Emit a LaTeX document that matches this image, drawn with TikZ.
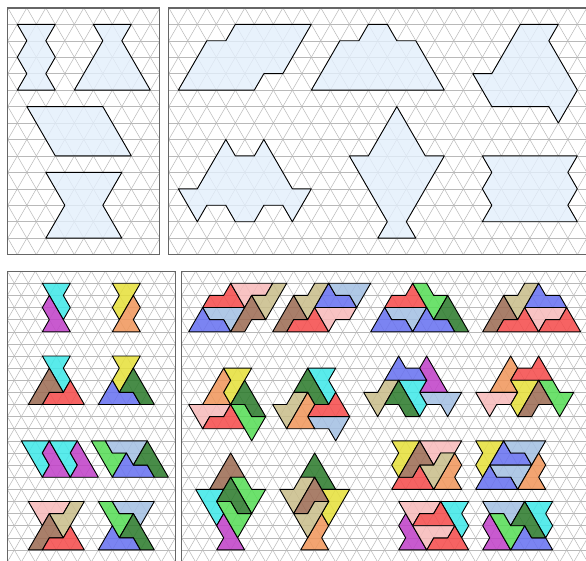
\documentclass[tikz,border=0pt]{standalone}
\usepackage{tikz}

\definecolor{shapefill}{HTML}{E3EFFC}
\definecolor{pcyan}{HTML}{3EE8E8}
\definecolor{pmagenta}{HTML}{C040C8}
\definecolor{pyellow}{HTML}{E6E03A}
\definecolor{porange}{HTML}{F0965A}
\definecolor{pbrown}{HTML}{9C6A52}
\definecolor{pred}{HTML}{F54A4A}
\definecolor{pblue}{HTML}{6670F0}
\definecolor{pdkgreen}{HTML}{2A7A2A}
\definecolor{pgreen}{HTML}{55DD55}
\definecolor{psteel}{HTML}{A3BFE3}
\definecolor{ppink}{HTML}{F7BABA}
\definecolor{pkhaki}{HTML}{C9BD8A}

\tikzset{
  gridline/.style={gray!55, line width=0.5pt},
  frameline/.style={draw=black!60, line width=1.3pt},
  region/.style={draw=black, line width=0.9pt, fill=shapefill, fill opacity=0.8, line join=round},
  piece/.style={draw=black, line width=0.9pt, fill=#1, fill opacity=0.86, line join=round}
}

% triangular grid: imin imax jmin jmax (i-j list) (i+j list)
\newcommand{\trigrid}[6]{%
  \begin{scope}
    \clip (#1,#3) rectangle (#2,#4);
    \foreach \j in {#3,...,#4} \draw[gridline] (#1,\j) -- (#2,\j);
    \foreach \c in {#5} \draw[gridline] ({\c+(#3)},#3) -- ({\c+(#4)},#4);
    \foreach \c in {#6} \draw[gridline] ({\c-(#3)},#3) -- ({\c-(#4)},#4);
  \end{scope}}

\begin{document}
\begin{tikzpicture}
\useasboundingbox (0,0) rectangle (586pt,-561pt);
\clip (0,0) rectangle (586pt,-561pt);
\fill[white] (0,0) rectangle (586pt,-561pt);

% top left panel
\begin{scope}[shift={(17.33pt,-24.33pt)}, x=9.5pt, y=-16.45pt]
  \trigrid{-1}{15}{-1}{14}{-14,-12,...,16}{-2,0,...,28}
  \draw[region] (0,0) -- (4,0) -- (3,1) -- (4,2) -- (3,3) -- (4,4) -- (0,4) -- (1,3) -- (0,2) -- (1,1) -- cycle;
  \draw[region] (8,0) -- (12,0) -- (11,1) -- (14,4) -- (6,4) -- (9,1) -- cycle;
  \draw[region] (1,5) -- (9,5) -- (12,8) -- (4,8) -- cycle;
  \draw[region] (3,9) -- (11,9) -- (9,11) -- (11,13) -- (3,13) -- (5,11) -- cycle;
  \draw[frameline] (-1,-1) rectangle (15,14);
\end{scope}

% top right panel
\begin{scope}[shift={(178.33pt,-24.33pt)}, x=9.5pt, y=-16.45pt]
  \trigrid{-1}{46}{-1}{14}{-14,-12,...,46}{-2,0,...,58}
  \draw[region] (0,4) -- (3,1) -- (5,1) -- (6,0) -- (14,0) -- (11,3) -- (9,3) -- (8,4) -- cycle;
  \draw[region] (14,4) -- (17,1) -- (19,1) -- (20,0) -- (22,0) -- (23,1) -- (25,1) -- (28,4) -- cycle;
  \draw[region] (36,0) -- (40,0) -- (39,1) -- (42,4) -- (40,6) -- (39,5) -- (33,5) -- (31,3) -- (33,3) -- cycle;
  \draw[region] (0,10) -- (2,10) -- (5,7) -- (6,8) -- (8,8) -- (9,7) -- (12,10) -- (14,10) -- (12,12) -- (11,11)
    -- (9,11) -- (8,12) -- (6,12) -- (5,11) -- (3,11) -- (2,12) -- cycle;
  \draw[region] (23,5) -- (26,8) -- (28,8) -- (24,12) -- (25,13) -- (21,13) -- (22,12) -- (18,8) -- (20,8) -- cycle;
  \draw[region] (32,8) -- (42,8) -- (41,9) -- (42,10) -- (41,11) -- (42,12) -- (32,12) -- (33,11) -- (32,10) -- (33,9) -- cycle;
  \draw[frameline] (-1,-1) rectangle (46,14);
\end{scope}

% bottom left panel
\begin{scope}[shift={(42.33pt,-283.3pt)}, x=7pt, y=-12.12pt]
  \trigrid{-5}{19}{-1}{25}{-28,-26,...,20}{-6,-4,...,44}
  % zigzag column
  \begin{scope}[shift={(0,0)}]
    \draw[piece=pcyan] (0,0) -- (4,0) -- (3,1) -- (4,2) -- (3,3) -- cycle;
    \draw[piece=pmagenta] (1,1) -- (4,4) -- (0,4) -- (1,3) -- (0,2) -- cycle;
  \end{scope}
  \begin{scope}[shift={(10,0)}]
    \draw[piece=pyellow] (0,0) -- (4,0) -- (1,3) -- (0,2) -- (1,1) -- cycle;
    \draw[piece=porange] (3,1) -- (0,4) -- (4,4) -- (3,3) -- (4,2) -- cycle;
  \end{scope}
  % notched trapezoid
  \begin{scope}[shift={(-2,6)}]
    \draw[piece=pcyan] (2,0) -- (6,0) -- (5,1) -- (6,2) -- (5,3) -- cycle;
    \draw[piece=pred] (2,4) -- (3,3) -- (5,3) -- (6,2) -- (8,4) -- cycle;
    \draw[piece=pbrown] (0,4) -- (3,1) -- (5,3) -- (3,3) -- (2,4) -- cycle;
  \end{scope}
  \begin{scope}[shift={(8,6)}]
    \draw[piece=pyellow] (2,0) -- (6,0) -- (3,3) -- (2,2) -- (3,1) -- cycle;
    \draw[piece=pblue] (0,4) -- (6,4) -- (5,3) -- (3,3) -- (2,2) -- cycle;
    \draw[piece=pdkgreen] (5,1) -- (8,4) -- (6,4) -- (5,3) -- (3,3) -- cycle;
  \end{scope}
  % parallelogram
  \begin{scope}[shift={(-3,13)}]
    \draw[piece=pcyan] (0,0) -- (4,0) -- (3,1) -- (4,2) -- (3,3) -- cycle;
    \draw[piece=pmagenta] (4,0) -- (7,3) -- (3,3) -- (4,2) -- (3,1) -- cycle;
    \draw[piece=pcyan] (4,0) -- (8,0) -- (7,1) -- (8,2) -- (7,3) -- cycle;
    \draw[piece=pmagenta] (8,0) -- (11,3) -- (7,3) -- (8,2) -- (7,1) -- cycle;
  \end{scope}
  \begin{scope}[shift={(7,13)}]
    \draw[piece=pgreen] (0,0) -- (2,0) -- (3,1) -- (5,1) -- (3,3) -- cycle;
    \draw[piece=psteel] (2,0) -- (8,0) -- (6,2) -- (5,1) -- (3,1) -- cycle;
    \draw[piece=pblue] (3,3) -- (9,3) -- (8,2) -- (6,2) -- (5,1) -- cycle;
    \draw[piece=pdkgreen] (8,0) -- (11,3) -- (9,3) -- (8,2) -- (6,2) -- cycle;
  \end{scope}
  % hourglass
  \begin{scope}[shift={(-2,18)}]
    \draw[piece=ppink] (0,0) -- (6,0) -- (5,1) -- (3,1) -- (2,2) -- cycle;
    \draw[piece=pbrown] (0,4) -- (2,4) -- (3,3) -- (5,3) -- (3,1) -- cycle;
    \draw[piece=pkhaki] (3,1) -- (5,1) -- (6,0) -- (8,0) -- (5,3) -- cycle;
    \draw[piece=pred] (2,4) -- (8,4) -- (6,2) -- (5,3) -- (3,3) -- cycle;
  \end{scope}
  \begin{scope}[shift={(8,18)}]
    \draw[piece=pgreen] (0,0) -- (2,0) -- (3,1) -- (5,1) -- (3,3) -- cycle;
    \draw[piece=psteel] (2,0) -- (8,0) -- (6,2) -- (5,1) -- (3,1) -- cycle;
    \draw[piece=pdkgreen] (5,1) -- (8,4) -- (6,4) -- (5,3) -- (3,3) -- cycle;
    \draw[piece=pblue] (0,4) -- (6,4) -- (5,3) -- (3,3) -- (2,2) -- cycle;
  \end{scope}
  \draw[frameline] (-5,-1) rectangle (19,25);
\end{scope}

% bottom right panel
\begin{scope}[shift={(188.67pt,-283.3pt)}, x=7pt, y=-12.12pt]
  \trigrid{-1}{59}{-1}{25}{-24,-22,...,60}{-2,0,...,84}
  % slanted block
  \begin{scope}[shift={(0,0)}]
    \draw[piece=pred] (2,2) -- (3,1) -- (5,1) -- (6,0) -- (8,2) -- cycle;
    \draw[piece=psteel] (2,2) -- (8,2) -- (6,4) -- (5,3) -- (3,3) -- cycle;
    \draw[piece=pblue] (0,4) -- (6,4) -- (5,3) -- (3,3) -- (2,2) -- cycle;
    \draw[piece=ppink] (6,0) -- (12,0) -- (11,1) -- (9,1) -- (8,2) -- cycle;
    \draw[piece=pbrown] (6,4) -- (8,4) -- (9,3) -- (11,3) -- (9,1) -- cycle;
    \draw[piece=pkhaki] (9,1) -- (11,1) -- (12,0) -- (14,0) -- (11,3) -- cycle;
  \end{scope}
  \begin{scope}[shift={(12,0)}]
    \draw[piece=pbrown] (0,4) -- (2,4) -- (3,3) -- (5,3) -- (3,1) -- cycle;
    \draw[piece=pkhaki] (3,1) -- (5,1) -- (6,0) -- (8,0) -- (5,3) -- cycle;
    \draw[piece=pred] (2,4) -- (8,4) -- (6,2) -- (5,3) -- (3,3) -- cycle;
    \draw[piece=ppink] (6,2) -- (12,2) -- (11,3) -- (9,3) -- (8,4) -- cycle;
    \draw[piece=pblue] (6,2) -- (8,0) -- (9,1) -- (11,1) -- (12,2) -- cycle;
    \draw[piece=psteel] (8,0) -- (14,0) -- (12,2) -- (11,1) -- (9,1) -- cycle;
  \end{scope}
  % house
  \begin{scope}[shift={(26,0)}]
    \draw[piece=pred] (2,2) -- (3,1) -- (5,1) -- (6,0) -- (8,2) -- cycle;
    \draw[piece=pgreen] (6,0) -- (8,0) -- (9,1) -- (11,1) -- (9,3) -- cycle;
    \draw[piece=pdkgreen] (11,1) -- (14,4) -- (12,4) -- (11,3) -- (9,3) -- cycle;
    \draw[piece=psteel] (2,2) -- (8,2) -- (6,4) -- (5,3) -- (3,3) -- cycle;
    \draw[piece=pblue] (0,4) -- (6,4) -- (5,3) -- (3,3) -- (2,2) -- cycle;
    \draw[piece=pblue] (6,4) -- (12,4) -- (11,3) -- (9,3) -- (8,2) -- cycle;
  \end{scope}
  \begin{scope}[shift={(42,0)}]
    \draw[piece=pbrown] (0,4) -- (2,4) -- (3,3) -- (5,3) -- (3,1) -- cycle;
    \draw[piece=pkhaki] (3,1) -- (5,1) -- (6,0) -- (8,0) -- (5,3) -- cycle;
    \draw[piece=pblue] (6,2) -- (8,0) -- (9,1) -- (11,1) -- (12,2) -- cycle;
    \draw[piece=pred] (2,4) -- (8,4) -- (6,2) -- (5,3) -- (3,3) -- cycle;
    \draw[piece=ppink] (6,2) -- (12,2) -- (11,3) -- (9,3) -- (8,4) -- cycle;
    \draw[piece=pred] (8,4) -- (14,4) -- (12,2) -- (11,3) -- (9,3) -- cycle;
  \end{scope}
  % three-armed shape
  \begin{scope}[shift={(0,7)}]
    \draw[piece=porange] (5,0) -- (6,1) -- (5,2) -- (6,3) -- (2,3) -- cycle;
    \draw[piece=pyellow] (5,0) -- (9,0) -- (6,3) -- (5,2) -- (6,1) -- cycle;
    \draw[piece=ppink] (0,3) -- (6,3) -- (5,4) -- (3,4) -- (2,5) -- cycle;
    \draw[piece=pred] (2,5) -- (8,5) -- (6,3) -- (5,4) -- (3,4) -- cycle;
    \draw[piece=pdkgreen] (8,1) -- (11,4) -- (9,4) -- (8,3) -- (6,3) -- cycle;
    \draw[piece=pgreen] (6,3) -- (8,3) -- (9,4) -- (11,4) -- (9,6) -- cycle;
  \end{scope}
  \begin{scope}[shift={(12,7)}]
    \draw[piece=pcyan] (5,0) -- (9,0) -- (8,1) -- (9,2) -- (8,3) -- cycle;
    \draw[piece=pdkgreen] (5,0) -- (8,3) -- (6,3) -- (5,2) -- (3,2) -- cycle;
    \draw[piece=pred] (5,4) -- (11,4) -- (9,2) -- (8,3) -- (6,3) -- cycle;
    \draw[piece=psteel] (5,4) -- (11,4) -- (9,6) -- (8,5) -- (6,5) -- cycle;
    \draw[piece=pkhaki] (0,3) -- (2,3) -- (3,2) -- (5,2) -- (2,5) -- cycle;
    \draw[piece=porange] (5,2) -- (2,5) -- (6,5) -- (5,4) -- (6,3) -- cycle;
  \end{scope}
  % twin peaks
  \begin{scope}[shift={(25,6)}]
    \draw[piece=pblue] (3,2) -- (9,2) -- (8,1) -- (6,1) -- (5,0) -- cycle;
    \draw[piece=pmagenta] (9,0) -- (12,3) -- (8,3) -- (9,2) -- (8,1) -- cycle;
    \draw[piece=pkhaki] (0,3) -- (2,3) -- (3,2) -- (5,2) -- (2,5) -- cycle;
    \draw[piece=psteel] (8,3) -- (14,3) -- (12,5) -- (11,4) -- (9,4) -- cycle;
    \draw[piece=pcyan] (5,2) -- (9,2) -- (8,3) -- (9,4) -- (8,5) -- cycle;
    \draw[piece=pdkgreen] (5,2) -- (8,5) -- (6,5) -- (5,4) -- (3,4) -- cycle;
  \end{scope}
  \begin{scope}[shift={(41,6)}]
    \draw[piece=porange] (5,0) -- (2,3) -- (6,3) -- (5,2) -- (6,1) -- cycle;
    \draw[piece=pred] (5,2) -- (6,1) -- (8,1) -- (9,0) -- (11,2) -- cycle;
    \draw[piece=ppink] (0,3) -- (6,3) -- (5,4) -- (3,4) -- (2,5) -- cycle;
    \draw[piece=pgreen] (9,2) -- (11,2) -- (12,3) -- (14,3) -- (12,5) -- cycle;
    \draw[piece=pyellow] (5,2) -- (9,2) -- (6,5) -- (5,4) -- (6,3) -- cycle;
    \draw[piece=pbrown] (6,5) -- (8,5) -- (9,4) -- (11,4) -- (9,2) -- cycle;
  \end{scope}
  % vase
  \begin{scope}[shift={(1,14)}]
    \draw[piece=pbrown] (2,3) -- (4,3) -- (5,2) -- (7,2) -- (5,0) -- cycle;
    \draw[piece=pcyan] (0,3) -- (4,3) -- (3,4) -- (4,5) -- (3,6) -- cycle;
    \draw[piece=pmagenta] (4,5) -- (7,8) -- (3,8) -- (4,7) -- (3,6) -- cycle;
    \draw[piece=pgreen] (5,2) -- (7,2) -- (8,3) -- (10,3) -- (8,5) -- cycle;
    \draw[piece=pdkgreen] (5,2) -- (8,5) -- (6,5) -- (5,4) -- (3,4) -- cycle;
    \draw[piece=pgreen] (3,4) -- (5,4) -- (6,5) -- (8,5) -- (6,7) -- cycle;
  \end{scope}
  \begin{scope}[shift={(13,14)}]
    \draw[piece=pdkgreen] (5,0) -- (8,3) -- (6,3) -- (5,2) -- (3,2) -- cycle;
    \draw[piece=porange] (6,5) -- (3,8) -- (7,8) -- (6,7) -- (7,6) -- cycle;
    \draw[piece=pyellow] (6,3) -- (10,3) -- (7,6) -- (6,5) -- (7,4) -- cycle;
    \draw[piece=pkhaki] (0,3) -- (2,3) -- (3,2) -- (5,2) -- (2,5) -- cycle;
    \draw[piece=pbrown] (2,5) -- (4,5) -- (5,4) -- (7,4) -- (5,2) -- cycle;
    \draw[piece=pkhaki] (2,5) -- (4,5) -- (5,4) -- (7,4) -- (4,7) -- cycle;
  \end{scope}
  % zigzag band
  \begin{scope}[shift={(29,13)}]
    \draw[piece=pyellow] (0,0) -- (4,0) -- (1,3) -- (0,2) -- (1,1) -- cycle;
    \draw[piece=ppink] (4,0) -- (10,0) -- (9,1) -- (7,1) -- (6,2) -- cycle;
    \draw[piece=porange] (9,1) -- (6,4) -- (10,4) -- (9,3) -- (10,2) -- cycle;
    \draw[piece=pred] (0,4) -- (1,3) -- (3,3) -- (4,2) -- (6,4) -- cycle;
    \draw[piece=pbrown] (1,3) -- (3,3) -- (4,2) -- (6,2) -- (4,0) -- cycle;
    \draw[piece=pkhaki] (4,2) -- (6,2) -- (7,1) -- (9,1) -- (6,4) -- cycle;
  \end{scope}
  \begin{scope}[shift={(41,13)}]
    \draw[piece=pyellow] (0,0) -- (4,0) -- (1,3) -- (0,2) -- (1,1) -- cycle;
    \draw[piece=pblue] (2,2) -- (8,2) -- (7,1) -- (5,1) -- (4,0) -- cycle;
    \draw[piece=psteel] (4,0) -- (10,0) -- (8,2) -- (7,1) -- (5,1) -- cycle;
    \draw[piece=psteel] (2,2) -- (8,2) -- (6,4) -- (5,3) -- (3,3) -- cycle;
    \draw[piece=pblue] (0,4) -- (6,4) -- (5,3) -- (3,3) -- (2,2) -- cycle;
    \draw[piece=porange] (9,1) -- (6,4) -- (10,4) -- (9,3) -- (10,2) -- cycle;
  \end{scope}
  \begin{scope}[shift={(30,18)}]
    \draw[piece=pcyan] (6,0) -- (10,0) -- (9,1) -- (10,2) -- (9,3) -- cycle;
    \draw[piece=pmagenta] (1,1) -- (4,4) -- (0,4) -- (1,3) -- (0,2) -- cycle;
    \draw[piece=ppink] (0,0) -- (6,0) -- (5,1) -- (3,1) -- (2,2) -- cycle;
    \draw[piece=pred] (2,2) -- (3,1) -- (5,1) -- (6,0) -- (8,2) -- cycle;
    \draw[piece=pred] (4,4) -- (5,3) -- (7,3) -- (8,2) -- (10,4) -- cycle;
    \draw[piece=ppink] (2,2) -- (8,2) -- (7,3) -- (5,3) -- (4,4) -- cycle;
  \end{scope}
  \begin{scope}[shift={(42,18)}]
    \draw[piece=psteel] (0,0) -- (6,0) -- (4,2) -- (3,1) -- (1,1) -- cycle;
    \draw[piece=pcyan] (6,0) -- (10,0) -- (9,1) -- (10,2) -- (9,3) -- cycle;
    \draw[piece=pmagenta] (1,1) -- (4,4) -- (0,4) -- (1,3) -- (0,2) -- cycle;
    \draw[piece=pblue] (4,4) -- (10,4) -- (9,3) -- (7,3) -- (6,2) -- cycle;
    \draw[piece=pdkgreen] (6,0) -- (9,3) -- (7,3) -- (6,2) -- (4,2) -- cycle;
    \draw[piece=pgreen] (1,1) -- (3,1) -- (4,2) -- (6,2) -- (4,4) -- cycle;
  \end{scope}
  \draw[frameline] (-1,-1) rectangle (59,25);
\end{scope}
\end{tikzpicture}
\end{document}
